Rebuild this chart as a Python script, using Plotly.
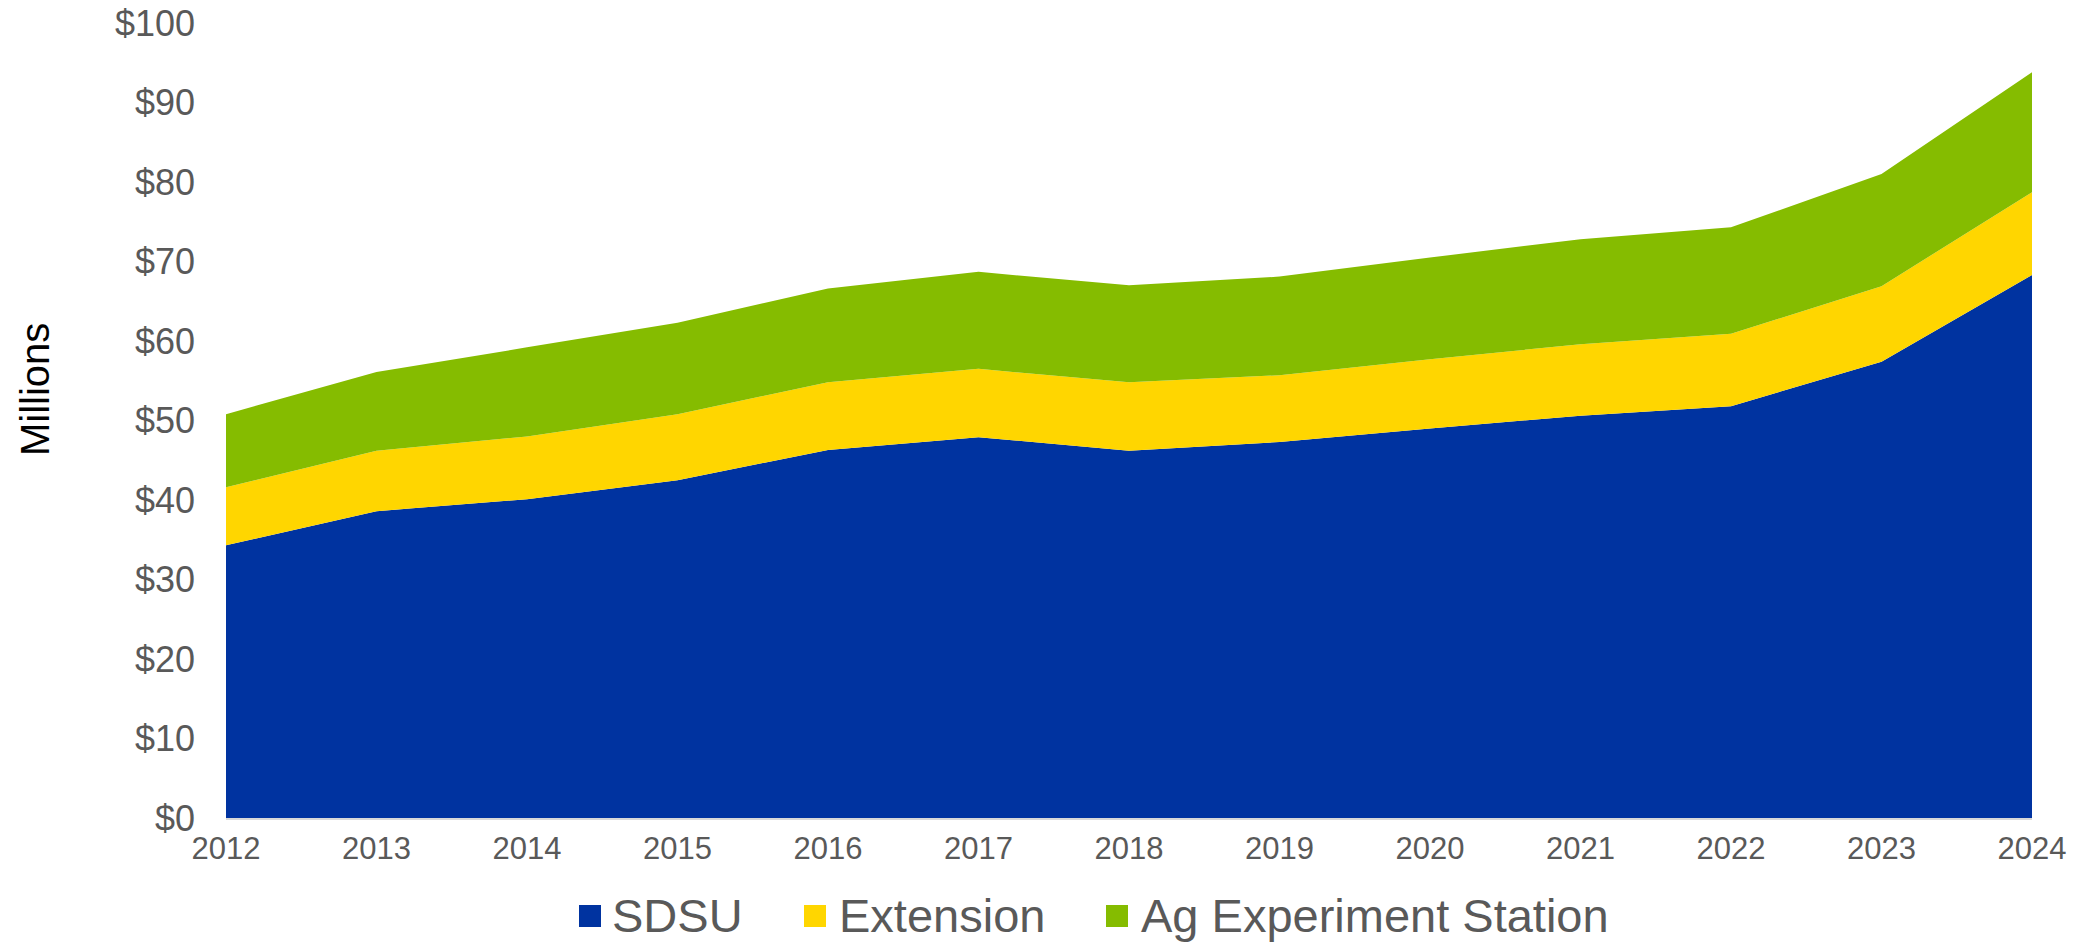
import plotly.graph_objects as go

years = [2012, 2013, 2014, 2015, 2016, 2017, 2018, 2019, 2020, 2021, 2022, 2023, 2024]
sdsu = [34.3, 38.6, 40.1, 42.5, 46.3, 47.9, 46.2, 47.3, 49.0, 50.6, 51.8, 57.4, 68.3]
extension = [7.3, 7.6, 7.9, 8.3, 8.5, 8.6, 8.6, 8.4, 8.7, 9.0, 9.1, 9.5, 10.4]
ag_station = [9.2, 9.9, 11.2, 11.5, 11.8, 12.2, 12.2, 12.4, 12.8, 13.2, 13.4, 14.1, 15.1]
y_ticks = [0, 10, 20, 30, 40, 50, 60, 70, 80, 90, 100]

names = ["SDSU", "Extension", "Ag Experiment Station"]
series = [sdsu, extension, ag_station]
colors = ["#0033A0", "#FFD600", "#85BC00"]

W, H = 2085, 942
ML, MR, MT, MB = 226, 53, 23, 124
PW = W - ML - MR
PH = H - MT - MB


def px_x(px):
    return (px - ML) / PW


def px_y(py):
    return (MT + PH - py) / PH


fig = go.Figure()
for name, vals, col in zip(names, series, colors):
    fig.add_trace(go.Scatter(
        x=years, y=vals, name=name, stackgroup="one", mode="lines",
        line=dict(width=0, color=col), fillcolor=col, showlegend=False,
        hoverinfo="x+y+name",
    ))

font_family = "Liberation Sans, Arial, Helvetica, sans-serif"
gray = "#595959"

# custom legend: square swatches + labels below the plot
square_left = [579, 804, 1106]
text_left = [611, 838, 1140]
SQ = 22
SQ_CY = 916
shapes = []
annotations = []
for name, col, sl, tl in zip(names, colors, square_left, text_left):
    shapes.append(dict(
        type="rect", xref="paper", yref="paper",
        x0=px_x(sl), x1=px_x(sl + SQ),
        y0=px_y(SQ_CY + SQ / 2), y1=px_y(SQ_CY - SQ / 2),
        fillcolor=col, line=dict(width=0), layer="above",
    ))
    annotations.append(dict(
        text=name, showarrow=False, xref="paper", yref="paper",
        x=px_x(tl), y=px_y(915), xanchor="left", yanchor="middle",
        font=dict(size=47, color=gray, family=font_family),
        borderpad=0,
    ))

annotations.append(dict(
    text="Millions", textangle=-90, showarrow=False,
    xref="paper", yref="paper",
    x=px_x(35), y=px_y(390),
    xanchor="center", yanchor="middle",
    font=dict(size=40, color="black", family=font_family),
))

fig.update_layout(
    width=W, height=H,
    margin=dict(l=ML, r=MR, t=MT, b=MB, autoexpand=False),
    plot_bgcolor="white", paper_bgcolor="white",
    font=dict(family=font_family, color=gray),
    showlegend=False,
    xaxis=dict(
        range=[2012, 2024], tickmode="array", tickvals=years,
        ticktext=[str(y) for y in years],
        showgrid=False, zeroline=False,
        showline=True, linecolor="#D9D9D9", linewidth=2,
        ticks="", tickfont=dict(size=31, color=gray), ticklabelstandoff=2,
    ),
    yaxis=dict(
        range=[0, 100], tickmode="array", tickvals=y_ticks,
        ticktext=["$" + str(v) for v in y_ticks],
        showgrid=False, zeroline=False, showline=False,
        ticks="", tickfont=dict(size=36, color=gray), ticklabelstandoff=30,
    ),
    shapes=shapes,
    annotations=annotations,
)

fig.write_html(
    "out.html",
    config={"displayModeBar": False},
    post_script="document.body.style.margin='0';document.body.style.overflow='hidden';",
)
